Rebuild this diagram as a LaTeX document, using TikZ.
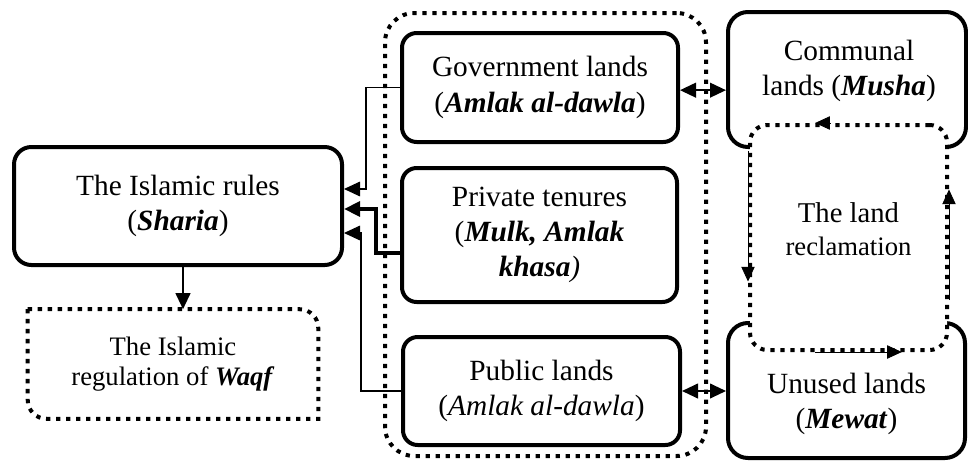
\documentclass[tikz,border=0pt]{standalone}
\usepackage{fontspec}
\setmainfont{Liberation Serif}
\usetikzlibrary{arrows.meta}
\newcommand{\bi}[1]{\textbf{\textit{#1}}}
\begin{document}
\begin{tikzpicture}[x=0.75pt,y=-0.75pt,
  box/.style={draw, line width=3pt, rounded corners=11pt, align=center, inner sep=0pt,
    font=\fontsize{22}{26.5}\selectfont},
  txt/.style={align=center, inner sep=0pt, font=\fontsize{22}{26.5}\selectfont},
  dotline/.style={line width=3pt, dash pattern=on 3.2pt off 4.3pt},
  tip/.style={-{Triangle[length=12pt,width=11pt]}},
  thinarrow/.style={tip, line width=0.8pt},
  thickarrow/.style={tip, line width=3pt},
  twoway/.style={{Triangle[length=12pt,width=11pt]}-{Triangle[length=12pt,width=11pt]}, line width=1.5pt},
  cyclearrow/.style={-{Triangle[length=11pt,width=10pt]}, line width=0.6pt},
]
\useasboundingbox (0,0) rectangle (968,468);

% dotted frame around the three tenure classes
\node[draw, dotline, rounded corners=22pt, minimum width=240.75pt, minimum height=332.25pt]
  (frame) at (545.5,234.5) {};

% left column
\node[box, rounded corners=13pt, minimum width=246pt, minimum height=88.5pt] (isl) at (178,206)
  {The Islamic rules\\(\bi{Sharia})};
\node[txt, font=\fontsize{20}{22.5}\selectfont, minimum width=217.5pt, minimum height=81.75pt]
  (waqf) at (173,364) {The Islamic\\regulation of \bi{Waqf}};
\draw[dotline] (waqf.north west) -- ([xshift=-14pt]waqf.north east)
  arc[start angle=90,end angle=0,radius=14pt] -- (waqf.south east)
  -- ([xshift=14pt]waqf.south west) arc[start angle=270,end angle=180,radius=14pt] -- cycle;

% tenure classes
\node[box, minimum width=207pt, minimum height=81.75pt] (gov) at (540,87.5)
  {Government lands\\(\bi{Amlak al-dawla})};
\node[box, minimum width=206.25pt, minimum height=100.5pt] (priv) at (539.5,235)
  {Private tenures\\(\bi{Mulk, Amlak}\\\bi{khasa}\textit{)}};
\node[box, minimum width=207.75pt, minimum height=81pt] (pub) at (541.5,391)
  {Public lands\\(\textit{Amlak al-dawla})};

% right column
\node[box, rounded corners=15pt, minimum width=178.5pt, minimum height=101.25pt] (comm) at (847,79.5) {};
\node[txt] (commtxt) at (849,71) {Communal\\lands (\bi{Musha})};
\node[box, rounded corners=15pt, minimum width=177.75pt, minimum height=101.25pt] (unused) at (846.5,390.5) {};
\node[txt] (unusedtxt) at (846.5,404) {Unused lands\\(\bi{Mewat})};

\node[draw, dotline, fill=white, rounded corners=13pt, minimum width=147.75pt, minimum height=168.75pt]
  (rec) at (848.5,237.5) {};
\node[txt, font=\fontsize{20}{25}\selectfont] (rectxt) at (848.5,229)
  {{\fontsize{21.5}{25}\selectfont The land}\\reclamation};

% reclamation cycle
\draw[cyclearrow] ([xshift=-14pt]rec.north) -- ([xshift=-25pt]rec.north);
\draw[cyclearrow] ([yshift=65pt]rec.west) -- ([yshift=-33pt]rec.west);
\draw[cyclearrow] ([xshift=-25pt]rec.south) -- ([xshift=40pt]rec.south);
\draw[cyclearrow] ([yshift=-47pt]rec.east) -- ([yshift=36pt]rec.east);

% connectors to the Islamic rules
\draw[thinarrow] (gov.west) -- ++(-25.5pt,0) |- ([yshift=12.75pt]isl.east);
\draw[thickarrow] ([yshift=-13.5pt]priv.west) -- ++(-18pt,0) |- ([yshift=-2.25pt]isl.east);
\draw[thinarrow] (pub.west) -- ++(-30pt,0) |- ([yshift=-20.25pt]isl.east);
\draw[tip, line width=1.5pt] ([xshift=3.75pt]isl.south) -- ([xshift=3.75pt]isl.south |- waqf.north);

% two-way links
\draw[twoway] ([yshift=-2pt]gov.east) -- ([yshift=-2pt]gov.east -| comm.west);
\draw[twoway] (pub.east) -- (pub.east -| unused.west);
\end{tikzpicture}
\end{document}
